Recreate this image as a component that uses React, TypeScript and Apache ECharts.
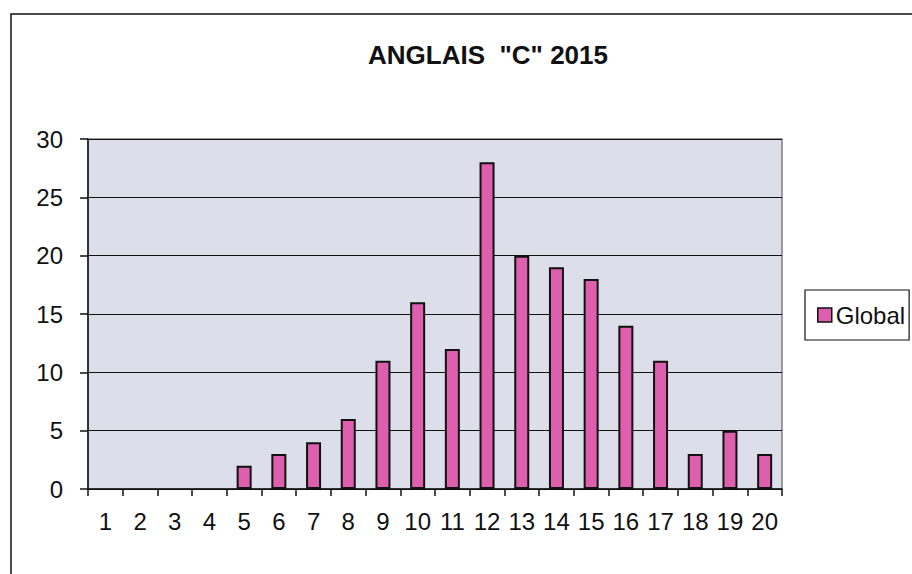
import React, { useEffect, useRef } from "react";
import * as echarts from "echarts";

const categories = ["1","2","3","4","5","6","7","8","9","10","11","12","13","14","15","16","17","18","19","20"];
const globalValues = [0,0,0,0,2,3,4,6,11,16,12,28,20,19,18,14,11,3,5,3];
const yTicks = { min: 0, max: 30, interval: 5 };
const titleText = 'ANGLAIS  "C" 2015';
const seriesName = "Global";

export default function App() {
  const ref = useRef<HTMLDivElement>(null);
  useEffect(() => {
    document.body.style.margin = "0";
    const chart = echarts.init(ref.current!, null, { renderer: "svg" });
    const font = "'Liberation Sans', Arial, sans-serif";
    chart.setOption({
      animation: false,
      backgroundColor: "#ffffff",
      textStyle: { fontFamily: font },
      graphic: [
        {
          type: "rect",
          shape: { x: 11, y: 14, width: 1000, height: 1000 },
          style: { fill: "none", stroke: "#111", lineWidth: 1.5 },
          silent: true,
        },
        {
          type: "text",
          x: 488,
          y: 55,
          style: {
            text: titleText,
            fontFamily: font,
            fontSize: 26,
            fontWeight: "bold",
            fill: "#111",
            textAlign: "center",
            textVerticalAlign: "middle",
          },
        },
      ],
      legend: {
        left: 805,
        top: 290,
        orient: "vertical",
        padding: [13, 4, 13, 12],
        borderColor: "#111",
        borderWidth: 1.2,
        itemWidth: 14,
        itemHeight: 14,
        icon: "rect",
        textStyle: { fontSize: 24, color: "#111", fontFamily: font, padding: [0, 0, 0, -1] },
        data: [{ name: seriesName, itemStyle: { borderColor: "#111", borderWidth: 1.5 } }],
      },
      grid: {
        left: 88,
        top: 139,
        width: 694,
        height: 350,
        show: true,
        backgroundColor: "#dcdee9",
        borderColor: "#808080",
        borderWidth: 1.5,
      },
      xAxis: {
        type: "category",
        data: categories,
        boundaryGap: true,
        axisLine: { show: true, lineStyle: { color: "#111", width: 1.5 } },
        axisTick: { show: true, length: 7, lineStyle: { color: "#111", width: 1.5 } },
        axisLabel: { fontSize: 24, color: "#111", margin: 20, interval: 0, fontFamily: font },
        splitLine: { show: false },
      },
      yAxis: {
        type: "value",
        min: yTicks.min,
        max: yTicks.max,
        interval: yTicks.interval,
        axisLine: { show: true, lineStyle: { color: "#111", width: 1.5 } },
        axisTick: { show: true, length: 8, lineStyle: { color: "#111", width: 1.5 } },
        axisLabel: { fontSize: 24, color: "#111", margin: 25, fontFamily: font },
        splitLine: { show: true, lineStyle: { color: "#111", width: 1.2 } },
      },
      series: [
        {
          name: seriesName,
          type: "bar",
          data: globalValues.map((v) => (v === 0 ? "-" : v)),
          barWidth: 15,
          itemStyle: { color: "#dd5fae", borderColor: "#111", borderWidth: 2 },
        },
      ],
    });
    return () => chart.dispose();
  }, []);
  return <div ref={ref} style={{ width: 912, height: 574 }} />;
}
